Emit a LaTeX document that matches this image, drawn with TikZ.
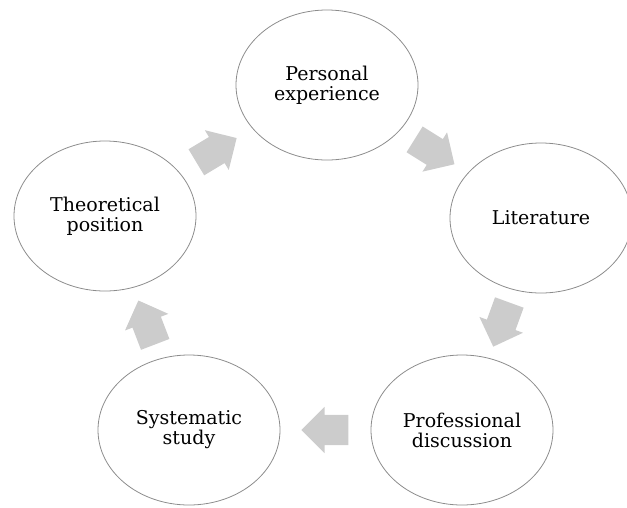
\documentclass[tikz,border=0pt]{standalone}
\usepackage{fontspec}
\setmainfont{DejaVu Serif}
\usetikzlibrary{calc,shapes.geometric,shapes.arrows}

\begin{document}
\begin{tikzpicture}[x=1pt,y=-1pt,
    stage/.style={ellipse, draw=black!45, line width=0.8pt, minimum width=182pt,
      minimum height=150pt, inner sep=0pt, align=center,
      font=\fontsize{19}{20}\selectfont},
    flowarrow/.style={single arrow, fill=black!20, draw=none, inner xsep=0pt,
      inner ysep=15pt, minimum height=47pt, single arrow head extend=8pt,
      single arrow tip angle=90}]
  % Define the page size
  \useasboundingbox (0,0) rectangle (627,507);

  % Define the stages of the cycle
  \node[stage] (pe) at (327,85) {Personal\\experience};
  \node[stage] (lit) at (541,218) {Literature};
  \node[stage] (pd) at (462,430) {Professional\\discussion};
  \node[stage] (ss) at (189,430) {Systematic\\study};
  \node[stage] (tp) at (105,216) {Theoretical\\position};

  % Draw the arrows between the stages
  \foreach \a/\b/\r in {pe/lit/-32, lit/pd/-110, pd/ss/180, ss/tp/111, tp/pe/31} {
    \node[flowarrow, rotate=\r, xshift=-7pt] (arr-\a) at ($(\a)!0.5!(\b)$) {};
  }

\end{tikzpicture}
\end{document}
